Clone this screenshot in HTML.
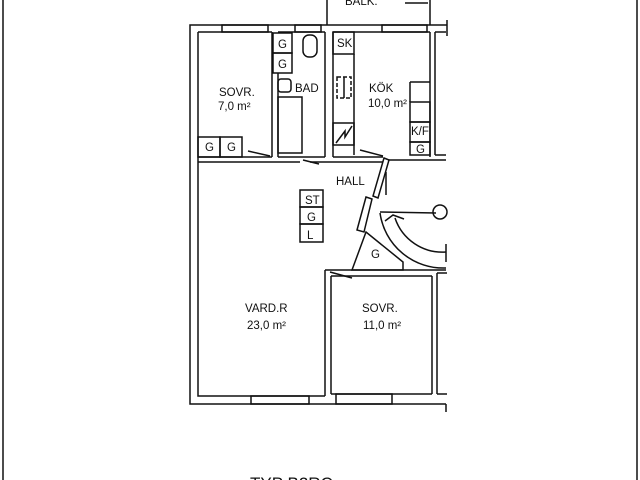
<!DOCTYPE html>
<html><head><meta charset="utf-8"><style>
html,body{margin:0;padding:0;background:#fff;}
svg{display:block}
text{font-family:"Liberation Sans",sans-serif;fill:#111;}
</style></head><body>
<svg width="640" height="480" viewBox="0 0 640 480" xmlns="http://www.w3.org/2000/svg">
<g stroke="#111" stroke-width="1.5" fill="none">
<line x1="3" y1="0" x2="3" y2="480"/>
<line x1="637" y1="0" x2="637" y2="480"/>
<polyline points="327,0 327,25"/>
<polyline points="430,0 430,25"/>
<line x1="405" y1="3" x2="428" y2="3"/>
<polyline points="447,25 190,25 190,404 446,404"/>
<polyline points="198,32 198,396 325,396"/>
<line x1="446" y1="404" x2="446" y2="412"/>
<line x1="447" y1="20" x2="447" y2="36"/>
<line x1="198" y1="32" x2="272" y2="32"/>
<line x1="278" y1="32" x2="325" y2="32"/>
<line x1="333" y1="32" x2="430" y2="32"/>
<rect x="222" y="25" width="46" height="7"/>
<rect x="295" y="25" width="26" height="7"/>
<rect x="382" y="25" width="45" height="7"/>
<line x1="272" y1="32" x2="272" y2="157"/>
<line x1="278" y1="73" x2="278" y2="157"/>
<line x1="325" y1="32" x2="325" y2="157"/>
<line x1="333" y1="32" x2="333" y2="157"/>
<line x1="430" y1="32" x2="430" y2="157"/>
<line x1="435" y1="32" x2="435" y2="155"/>
<line x1="435" y1="155" x2="446" y2="155"/>
<line x1="435" y1="32" x2="446" y2="32"/>
<line x1="198" y1="157" x2="272" y2="157"/>
<line x1="278" y1="157" x2="325" y2="157"/>
<line x1="333" y1="157" x2="383" y2="157"/>
<line x1="198" y1="162" x2="300" y2="162"/>
<line x1="310" y1="162" x2="383" y2="162"/>
<line x1="388" y1="160" x2="446" y2="160"/>
<rect x="198" y="137" width="22" height="20"/>
<rect x="220" y="137" width="22" height="20"/>
<line x1="248" y1="151" x2="270" y2="156"/>
<rect x="273" y="33" width="19" height="20"/>
<rect x="273" y="53" width="19" height="20"/>
<rect x="303" y="35" width="14" height="22" rx="6"/>
<rect x="278" y="79" width="13" height="13" rx="3"/>
<rect x="278" y="97" width="24" height="56"/>
<line x1="303" y1="160" x2="319" y2="164"/>
<rect x="333" y="32" width="21" height="22"/>
<line x1="354" y1="54" x2="354" y2="155"/>
<rect x="337" y="77" width="14" height="21" stroke-dasharray="4,2"/>
<line x1="344" y1="77" x2="344" y2="98"/>
<rect x="333" y="123" width="21" height="22"/>
<path d="M336,143 L345,131 L345,137 L352,126"/>
<line x1="360" y1="150" x2="383" y2="156"/>
<rect x="410" y="102" width="20" height="20"/>
<rect x="410" y="122" width="20" height="20"/>
<rect x="410" y="142" width="20" height="13"/>
<line x1="410" y1="82" x2="430" y2="82"/>
<line x1="410" y1="82" x2="410" y2="102"/>
<polygon points="384,158 389,160 378,198 373,196"/>
<line x1="386" y1="172" x2="386" y2="195"/>
<polygon points="366,197 372,199 364,232 357,230" />
<path d="M380,212 L436,213"/>
<circle cx="440" cy="212" r="7"/>
<path d="M380,213 A64,64 0 0 0 446,268"/>
<path d="M395,218 A50,50 0 0 0 446,252"/>
<path d="M385,221 L393,215 L404,219"/>
<line x1="446" y1="244" x2="446" y2="262"/>
<polygon points="366,232 352,270 403,270 403,262"/>
<line x1="325" y1="270" x2="325" y2="396"/>
<line x1="331" y1="276" x2="331" y2="394"/>
<line x1="325" y1="270" x2="446" y2="270"/>
<line x1="331" y1="276" x2="432" y2="276"/>
<line x1="432" y1="276" x2="432" y2="394"/>
<line x1="437" y1="273" x2="437" y2="394"/>
<line x1="437" y1="273" x2="447" y2="273"/>
<line x1="437" y1="394" x2="447" y2="394"/>
<line x1="331" y1="394" x2="432" y2="394"/>
<line x1="330" y1="272" x2="352" y2="278"/>
<rect x="251" y="396" width="58" height="8"/>
<rect x="336" y="394" width="56" height="10"/>
<rect x="300" y="190" width="23" height="17"/>
<rect x="300" y="207" width="23" height="17"/>
<rect x="300" y="224" width="23" height="18"/>
</g>
<g font-size="11.5">
<text x="345" y="5">BALK.</text>
<text x="278" y="48">G</text><text x="278" y="68">G</text>
<text x="205" y="151">G</text><text x="227" y="151">G</text>
<text x="337" y="47">SK</text>
<text x="219" y="96">SOVR.</text>
<text x="218" y="110">7,0 m²</text>
<text x="295" y="92">BAD</text>
<text x="369" y="92">KÖK</text>
<text x="368" y="107">10,0 m²</text>
<text x="411" y="135">K/F</text>
<text x="416" y="153">G</text>
<text x="336" y="185">HALL</text>
<text x="305" y="204">ST</text><text x="307" y="221">G</text><text x="307" y="239">L</text>
<text x="371" y="258">G</text>
<text x="245" y="312">VARD.R</text>
<text x="247" y="329">23,0 m²</text>
<text x="362" y="312">SOVR.</text>
<text x="363" y="329">11,0 m²</text>
<text x="250" y="489" font-size="17">TYP  B2RC</text>
</g>
</svg>
</body></html>
